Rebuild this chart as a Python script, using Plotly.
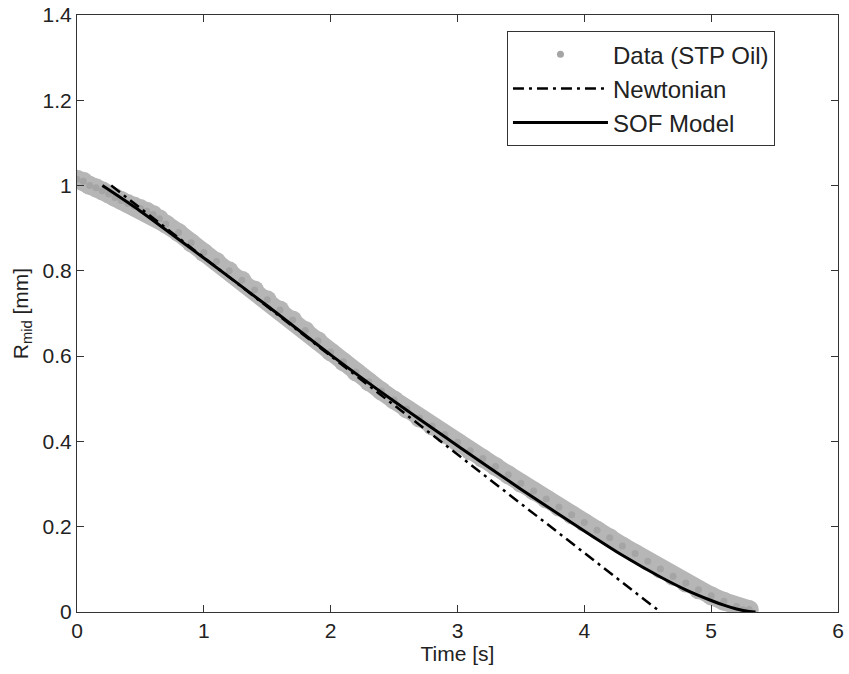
import plotly.graph_objects as go

# Data (STP Oil)
data_t = [0.00, 0.05, 0.10, 0.15, 0.20, 0.25, 0.30, 0.35, 0.40, 0.45, 0.50, 0.55, 0.60, 0.65, 0.70,
          0.80, 0.90, 1.00, 1.10, 1.20, 1.30, 1.40, 1.50, 1.60, 1.70, 1.80, 1.90, 2.00, 2.10, 2.20,
          2.30, 2.40, 2.50, 2.60, 2.70, 2.80, 2.90, 3.00, 3.10, 3.20, 3.30, 3.40, 3.50, 3.60, 3.70,
          3.80, 3.90, 4.00, 4.10, 4.20, 4.30, 4.40, 4.50, 4.60, 4.70, 4.80, 4.90, 5.00, 5.10, 5.20,
          5.25, 5.30]
data_r = [1.015, 1.010, 1.000, 0.995, 0.988, 0.980, 0.972, 0.965, 0.958, 0.952, 0.946, 0.940, 0.932, 0.922, 0.910,
          0.890, 0.866, 0.843, 0.822, 0.800, 0.778, 0.755, 0.732, 0.708, 0.685, 0.660, 0.636, 0.610, 0.587, 0.563,
          0.540, 0.518, 0.497, 0.476, 0.455, 0.436, 0.416, 0.398, 0.378, 0.360, 0.341, 0.322, 0.302, 0.284, 0.265,
          0.246, 0.228, 0.210, 0.192, 0.174, 0.155, 0.137, 0.119, 0.101, 0.084, 0.068, 0.052, 0.038, 0.025, 0.013,
          0.005, 0.006]

# Newtonian model (straight dash-dot line)
newt_t = [0.27, 4.60]
newt_r = [1.00, 0.00]

# SOF model
sof_t = [0.20, 0.50, 1.00, 1.50, 2.00, 2.50, 3.00, 3.50, 4.00, 4.30, 4.60, 4.80, 5.00, 5.10, 5.20, 5.30, 5.35]
sof_r = [1.000, 0.940, 0.830, 0.718, 0.603, 0.494, 0.390, 0.288, 0.190, 0.133, 0.082, 0.052, 0.027, 0.016, 0.007, 0.001, 0.000]

x_ticks = [0, 1, 2, 3, 4, 5, 6]
y_ticks = [0, 0.2, 0.4, 0.6, 0.8, 1, 1.2, 1.4]
y_tick_text = ["0", "0.2", "0.4", "0.6", "0.8", "1", "1.2", "1.4"]

FONT = "Liberation Sans, Arial, Helvetica, sans-serif"

fig = go.Figure()
# dense gray band formed by the many data samples
fig.add_trace(go.Scatter(
    x=data_t, y=data_r, mode="lines+markers", showlegend=False, hoverinfo="skip",
    line=dict(color="rgb(182,182,182)", width=18),
    marker=dict(symbol="circle", size=19, color="rgb(182,182,182)", line=dict(width=0)),
))
# legend entry / sample markers for the data
fig.add_trace(go.Scatter(
    x=data_t, y=data_r, mode="markers", name="Data (STP Oil)",
    marker=dict(symbol="circle", size=7, color="rgb(165,165,165)", line=dict(width=0)),
))
fig.add_trace(go.Scatter(
    x=newt_t, y=newt_r, mode="lines", name="Newtonian",
    line=dict(color="black", width=2.5, dash="11px,5px,3px,5px"),
))
fig.add_trace(go.Scatter(
    x=sof_t, y=sof_r, mode="lines", name="SOF Model",
    line=dict(color="black", width=3, shape="spline", smoothing=0.8),
))

axis_common = dict(
    showgrid=False, zeroline=False, showline=True, linecolor="#333", linewidth=1,
    mirror="ticks", ticks="inside", ticklen=7, tickcolor="#333", tickwidth=1,
    tickfont=dict(family=FONT, size=21, color="#222"), automargin=False,
)

fig.update_layout(
    width=849, height=674,
    margin=dict(l=77, r=11, t=15, b=62),
    paper_bgcolor="white", plot_bgcolor="white",
    font=dict(family=FONT, size=21, color="#222"),
    xaxis=dict(range=[0, 6], tickvals=x_ticks,
               title=dict(text="Time [s]", font=dict(family=FONT, size=21), standoff=2),
               **axis_common),
    yaxis=dict(range=[0, 1.4], tickvals=y_ticks, ticktext=y_tick_text,
               title=dict(text="R<sub>mid</sub> [mm]", font=dict(family=FONT, size=21), standoff=8),
               **axis_common),
    legend=dict(x=0.565, y=0.973, xanchor="left", yanchor="top",
                bgcolor="white", bordercolor="#333", borderwidth=1,
                font=dict(family=FONT, size=24, color="#222"),
                itemwidth=95, tracegroupgap=0),
    showlegend=True,
)

fig.write_html("out.html")
